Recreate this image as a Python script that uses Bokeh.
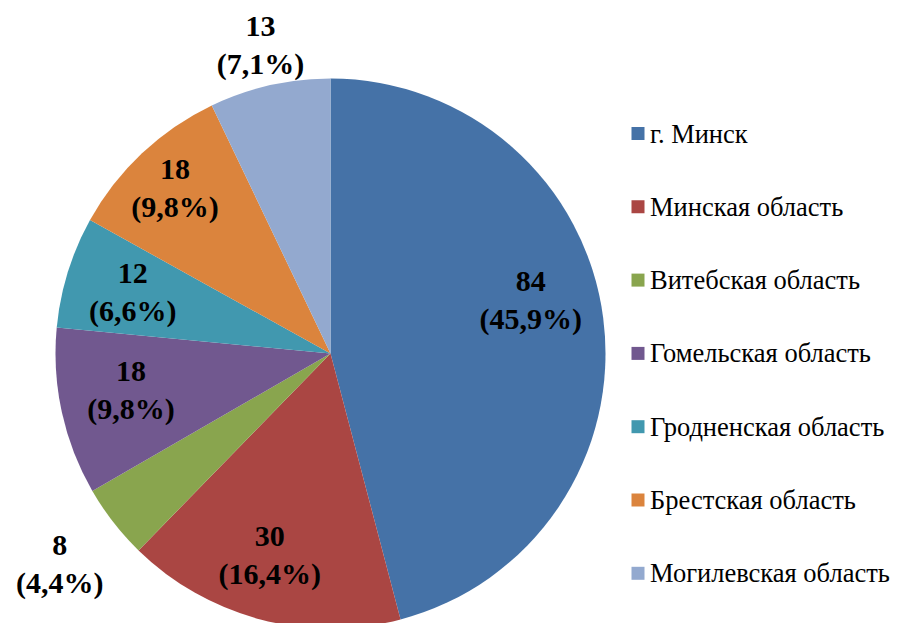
import math
from bokeh.plotting import figure
from bokeh.models import ColumnDataSource, Range1d
from bokeh.core.properties import value
from bokeh.embed import file_html
from bokeh.resources import INLINE

# ---- data ----
categories = ["г. Минск", "Минская область", "Витебская область", "Гомельская область",
              "Гродненская область", "Брестская область", "Могилевская область"]
counts = [84, 30, 8, 18, 12, 18, 13]
percent_labels = ["45,9%", "16,4%", "4,4%", "9,8%", "6,6%", "9,8%", "7,1%"]
colors = ["#4572A7", "#AA4643", "#89A54E", "#71588F", "#4198AF", "#DB843D", "#93A9CF"]

# ---- layout (pixel-based) ----
W, H = 897, 623
CX, CY, R = 330, H - 353, 275
label_r = [0.753, 0.767, 1.247, 0.738, 0.753, 0.825, 1.149]
label_shift_deg = [-7.5, 2.0, 0, 1.8, 0, 0, 0]
SERIF = value("Liberation Serif")

total = sum(counts)
starts, ends, mids = [], [], []
cum = 0
for c in counts:
    a0 = cum / total * 2 * math.pi
    cum += c
    a1 = cum / total * 2 * math.pi
    starts.append(math.pi / 2 - a0)
    ends.append(math.pi / 2 - a1)
    mids.append((a0 + a1) / 2)

p = figure(width=W, height=H, output_backend="svg", toolbar_location=None,
           x_range=Range1d(0, W), y_range=Range1d(0, H), min_border=0)
p.axis.visible = False
p.grid.visible = False
p.outline_line_color = None
p.background_fill_color = "white"

src = ColumnDataSource(dict(start=starts, end=ends, color=colors))
p.wedge(x=CX, y=CY, radius=R, start_angle="start", end_angle="end", direction="clock",
        fill_color="color", line_color=None, source=src)

# data labels
lx, ly1, ly2, t1, t2 = [], [], [], [], []
for i, c in enumerate(counts):
    ang = mids[i] + math.radians(label_shift_deg[i])
    r = label_r[i] * R
    x = CX + r * math.sin(ang)
    y = CY + r * math.cos(ang)
    lx.append(x)
    ly1.append(y + 18.5)
    ly2.append(y - 18.5)
    t1.append(str(c))
    t2.append("(" + percent_labels[i] + ")")

lab = ColumnDataSource(dict(x=lx, y1=ly1, y2=ly2, t1=t1, t2=t2))
for ycol, tcol in (("y1", "t1"), ("y2", "t2")):
    p.text(x="x", y=ycol, text=tcol, source=lab, text_align="center", text_baseline="middle",
           text_font=SERIF, text_font_style="bold",
           text_font_size="30px", text_color="black")

# legend
leg_x, leg_y0, leg_dy = 637.5, H - 133, 73.3
leg_y = [leg_y0 - i * leg_dy for i in range(len(categories))]
leg = ColumnDataSource(dict(x=[leg_x] * len(categories), tx=[leg_x + 12] * len(categories),
                            y=leg_y, color=colors, name=categories))
p.rect(x="x", y="y", width=13, height=13, fill_color="color", line_color=None, source=leg)
p.text(x="tx", y="y", text="name", source=leg, text_align="left", text_baseline="middle",
       text_font=SERIF, text_font_size="26.5px", text_color="black")

open("out.html", "w").write(file_html(p, INLINE))
